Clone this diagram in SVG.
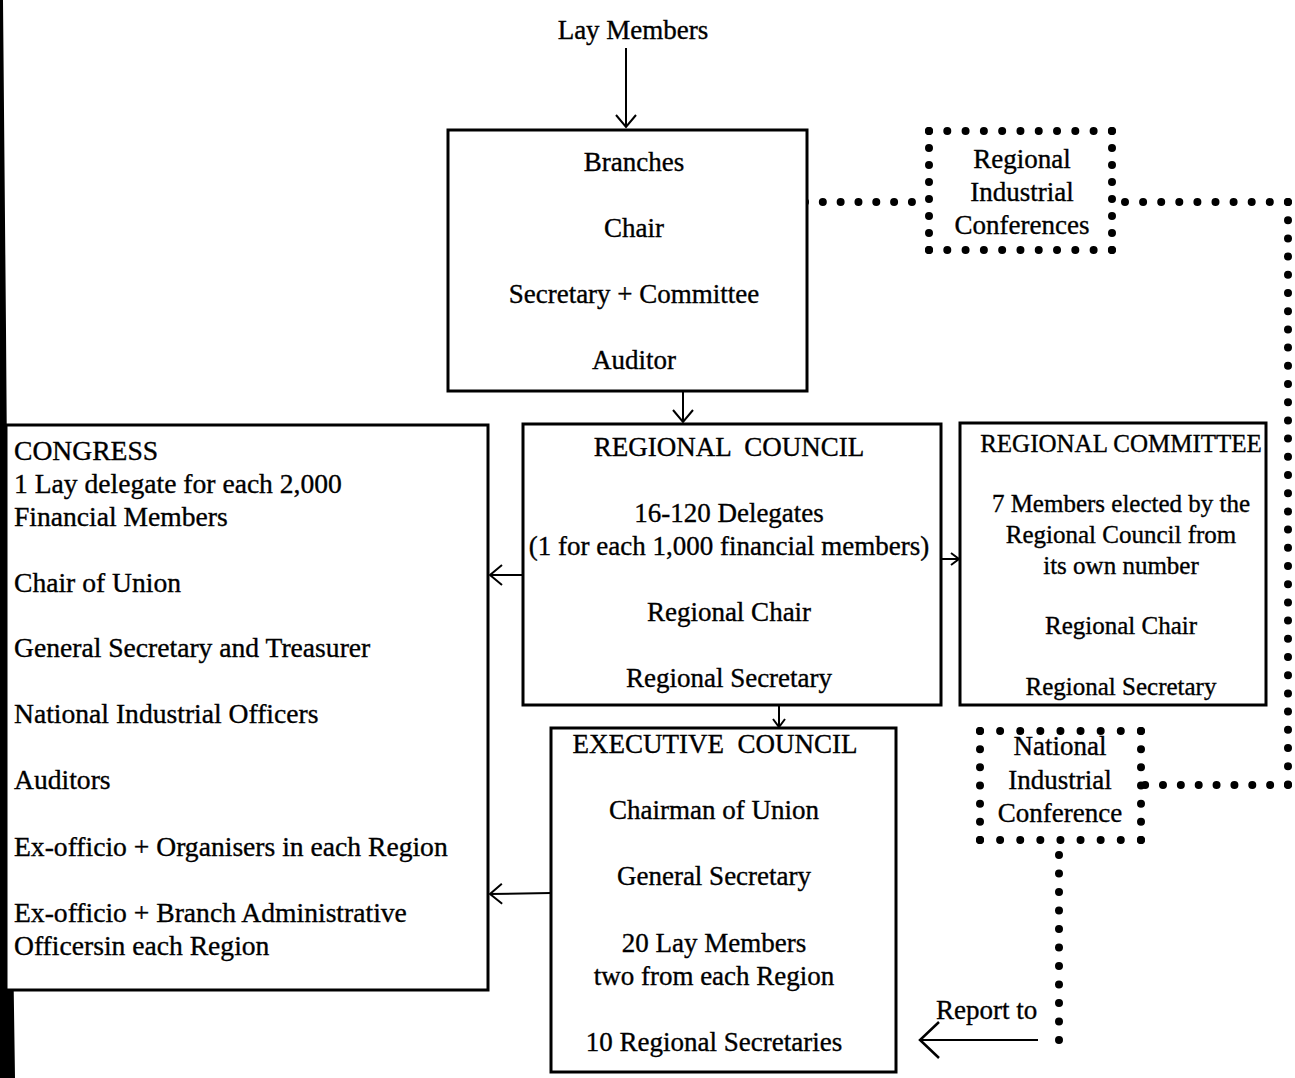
<svg xmlns="http://www.w3.org/2000/svg" width="1295" height="1078" viewBox="0 0 1295 1078">
  <style>
    .box { fill: #fff; stroke: #000; stroke-width: 3; }
    .t { font-family: "Liberation Serif", "Times New Roman", serif; font-size: 27px; fill: #000; stroke: #000; stroke-width: 0.35; }
    .c { text-anchor: middle; }
    .s { font-size: 25px; }
    .l { font-size: 27.6px; }
    .link { stroke: #000; stroke-width: 2; fill: none; }
    .dots { stroke: #000; stroke-width: 8; stroke-linecap: round; fill: none; }
  </style>
  <defs>
    <marker id="vee" markerUnits="userSpaceOnUse" markerWidth="16" markerHeight="24" refX="14" refY="12" orient="auto">
      <path d="M2,2 L14,12 L2,22" fill="none" stroke="#000" stroke-width="2"/>
    </marker>
    <marker id="veeSmall" markerUnits="userSpaceOnUse" markerWidth="12" markerHeight="16" refX="10" refY="8" orient="auto">
      <path d="M2,2 L10,8 L2,14" fill="none" stroke="#000" stroke-width="2"/>
    </marker>
    <marker id="veeLarge" markerUnits="userSpaceOnUse" markerWidth="24" markerHeight="40" refX="22" refY="20" orient="auto">
      <path d="M2,2 L21,20 L2,38" fill="none" stroke="#000" stroke-width="2.5"/>
    </marker>
  </defs>

  <rect width="1295" height="1078" fill="#fff"/>

  <!-- page edge shadow -->
  <polygon points="0,0 3,0 6,330 8,600 15,1078 0,1078" fill="#000"/>

  <!-- connectors -->
  <g id="connectors">
    <line class="link" x1="626" y1="48" x2="626" y2="127" marker-end="url(#vee)"/>
    <line class="link" x1="683" y1="391" x2="683" y2="422" marker-end="url(#vee)"/>
    <line class="link" x1="523" y1="575" x2="490" y2="575" marker-end="url(#vee)"/>
    <line class="link" x1="941" y1="559" x2="959" y2="559" marker-end="url(#veeSmall)"/>
    <line class="link" x1="779" y1="705" x2="779" y2="727" marker-end="url(#veeSmall)"/>
    <line class="link" x1="551" y1="893" x2="490" y2="894" marker-end="url(#vee)"/>
    <line class="link" x1="1038" y1="1040" x2="919" y2="1040" marker-end="url(#veeLarge)"/>
    <!-- dotted links -->
    <line class="dots" x1="805" y1="202" x2="912" y2="202" stroke-dasharray="0 17.82"/>
    <line class="dots" x1="1125" y1="202" x2="1288" y2="202" stroke-dasharray="0 18.1"/>
    <line class="dots" x1="1288" y1="202" x2="1288" y2="785" stroke-dasharray="0 18.2"/>
    <line class="dots" x1="1288" y1="785" x2="1145" y2="785" stroke-dasharray="0 17.86"/>
    <line class="dots" x1="1059" y1="855" x2="1059" y2="1040" stroke-dasharray="0 18.49"/>
  </g>

  <!-- source label -->
  <g id="lay-members">
    <text class="t c" x="633" y="39">Lay Members</text>
  </g>

  <g id="branches">
    <rect class="box" x="448" y="130" width="359" height="261"/>
    <text class="t c" x="634" y="171">Branches</text>
    <text class="t c" x="634" y="237">Chair</text>
    <text class="t c" x="634" y="303">Secretary + Committee</text>
    <text class="t c" x="634" y="369">Auditor</text>
  </g>

  <g id="regional-industrial-conferences">
    <line class="dots" x1="929" y1="131" x2="1112" y2="131" stroke-dasharray="0 18.29"/>
    <line class="dots" x1="929" y1="250" x2="1112" y2="250" stroke-dasharray="0 18.29"/>
    <line class="dots" x1="929" y1="131" x2="929" y2="250" stroke-dasharray="0 16.99"/>
    <line class="dots" x1="1112" y1="131" x2="1112" y2="250" stroke-dasharray="0 16.99"/>
    <text class="t c" x="1022" y="168">Regional</text>
    <text class="t c" x="1022" y="201">Industrial</text>
    <text class="t c" x="1022" y="234">Conferences</text>
  </g>

  <g id="congress">
    <rect class="box" x="6" y="425" width="482" height="565"/>
    <text class="t l" x="14" y="460">CONGRESS</text>
    <text class="t l" x="14" y="493">1 Lay delegate for each 2,000</text>
    <text class="t l" x="14" y="526">Financial Members</text>
    <text class="t l" x="14" y="592">Chair of Union</text>
    <text class="t l" x="14" y="657">General Secretary and Treasurer</text>
    <text class="t l" x="14" y="723">National Industrial Officers</text>
    <text class="t l" x="14" y="789">Auditors</text>
    <text class="t l" x="14" y="856">Ex-officio + Organisers in each Region</text>
    <text class="t l" x="14" y="922">Ex-officio + Branch Administrative</text>
    <text class="t l" x="14" y="955">Officersin each Region</text>
  </g>

  <g id="regional-council">
    <rect class="box" x="523" y="424" width="418" height="281"/>
    <text class="t c" x="729" y="456" xml:space="preserve">REGIONAL  COUNCIL</text>
    <text class="t c" x="729" y="522">16-120 Delegates</text>
    <text class="t c" x="729" y="555">(1 for each 1,000 financial members)</text>
    <text class="t c" x="729" y="621">Regional Chair</text>
    <text class="t c" x="729" y="687">Regional Secretary</text>
  </g>

  <g id="regional-committee">
    <rect class="box" x="960" y="423" width="306" height="282"/>
    <text class="t s c" x="1121" y="452">REGIONAL COMMITTEE</text>
    <text class="t s c" x="1121" y="512">7 Members elected by the</text>
    <text class="t s c" x="1121" y="543">Regional Council from</text>
    <text class="t s c" x="1121" y="574">its own number</text>
    <text class="t s c" x="1121" y="634">Regional Chair</text>
    <text class="t s c" x="1121" y="695">Regional Secretary</text>
  </g>

  <g id="executive-council">
    <rect class="box" x="551" y="728" width="345" height="344"/>
    <text class="t c" x="715" y="753" xml:space="preserve">EXECUTIVE  COUNCIL</text>
    <text class="t c" x="714" y="819">Chairman of Union</text>
    <text class="t c" x="714" y="885">General Secretary</text>
    <text class="t c" x="714" y="952">20 Lay Members</text>
    <text class="t c" x="714" y="985">two from each Region</text>
    <text class="t c" x="714" y="1051">10 Regional Secretaries</text>
  </g>

  <g id="national-industrial-conference">
    <line class="dots" x1="980" y1="731" x2="1141" y2="731" stroke-dasharray="0 20.11"/>
    <line class="dots" x1="980" y1="840" x2="1141" y2="840" stroke-dasharray="0 20.11"/>
    <line class="dots" x1="980" y1="731" x2="980" y2="840" stroke-dasharray="0 18.16"/>
    <line class="dots" x1="1141" y1="731" x2="1141" y2="840" stroke-dasharray="0 18.16"/>
    <text class="t c" x="1060" y="755">National</text>
    <text class="t c" x="1060" y="789">Industrial</text>
    <text class="t c" x="1060" y="822">Conference</text>
  </g>

  <g id="report-to">
    <text class="t" x="936" y="1019">Report to</text>
  </g>
</svg>
